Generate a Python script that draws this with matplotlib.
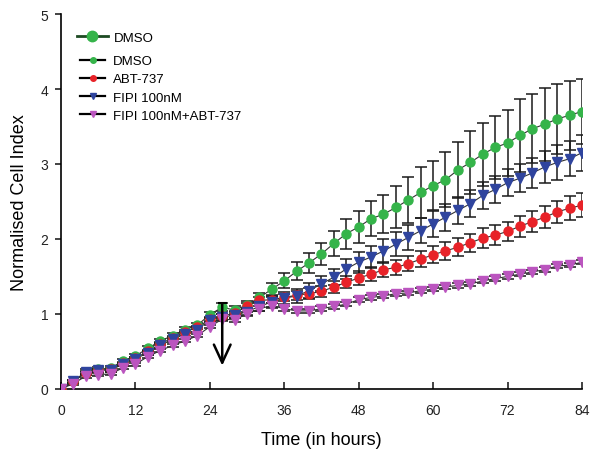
import matplotlib
matplotlib.use("Agg")
import matplotlib.pyplot as plt
from matplotlib.lines import Line2D

plt.rcParams['font.family'] = ['Liberation Sans', 'DejaVu Sans']

time = [0, 2, 4, 6, 8, 10, 12, 14, 16, 18, 20, 22, 24, 26, 28, 30, 32, 34, 36, 38,
        40, 42, 44, 46, 48, 50, 52, 54, 56, 58, 60, 62, 64, 66, 68, 70, 72, 74, 76, 78,
        80, 82, 84]

dmso = [0, 0.1, 0.23, 0.26, 0.28, 0.37, 0.44, 0.54, 0.64, 0.71,
        0.79, 0.85, 0.99, 1.09, 1.05, 1.12, 1.22, 1.33, 1.44, 1.57,
        1.68, 1.8, 1.94, 2.07, 2.16, 2.27, 2.33, 2.42, 2.52, 2.62,
        2.71, 2.79, 2.92, 3.02, 3.13, 3.22, 3.28, 3.38, 3.47, 3.53,
        3.6, 3.65, 3.7]
dmso_err = [0, 0.02, 0.03, 0.03, 0.03, 0.03, 0.03, 0.03, 0.03, 0.03,
            0.03, 0.03, 0.04, 0.05, 0.05, 0.05, 0.06, 0.08, 0.1, 0.12,
            0.13, 0.15, 0.17, 0.2, 0.21, 0.23, 0.25, 0.28, 0.31, 0.34,
            0.33, 0.37, 0.37, 0.42, 0.42, 0.42, 0.44, 0.49, 0.46, 0.49,
            0.47, 0.46, 0.43]

abt = [0, 0.1, 0.21, 0.25, 0.26, 0.34, 0.41, 0.5, 0.6, 0.68,
       0.76, 0.82, 0.93, 0.97, 1.01, 1.11, 1.18, 1.19, 1.22, 1.25,
       1.27, 1.3, 1.36, 1.42, 1.48, 1.53, 1.59, 1.62, 1.67, 1.73,
       1.79, 1.84, 1.89, 1.95, 2.01, 2.05, 2.1, 2.17, 2.23, 2.29,
       2.36, 2.41, 2.45]
abt_err = [0, 0.02, 0.02, 0.02, 0.02, 0.02, 0.02, 0.02, 0.02, 0.02,
           0.02, 0.02, 0.03, 0.03, 0.03, 0.04, 0.04, 0.05, 0.05, 0.06,
           0.07, 0.07, 0.08, 0.08, 0.09, 0.09, 0.1, 0.1, 0.1, 0.11,
           0.11, 0.12, 0.12, 0.12, 0.13, 0.13, 0.13, 0.14, 0.14, 0.15,
           0.15, 0.16, 0.16]

fipi = [0, 0.1, 0.22, 0.25, 0.25, 0.33, 0.4, 0.48, 0.58, 0.66,
        0.73, 0.79, 0.92, 0.96, 0.98, 1.03, 1.1, 1.16, 1.21, 1.24,
        1.31, 1.4, 1.49, 1.6, 1.69, 1.76, 1.84, 1.93, 2.02, 2.11,
        2.2, 2.29, 2.38, 2.47, 2.58, 2.66, 2.75, 2.81, 2.88, 2.96,
        3.02, 3.07, 3.15]
fipi_err = [0, 0.02, 0.02, 0.02, 0.02, 0.02, 0.03, 0.03, 0.03, 0.03,
            0.03, 0.03, 0.03, 0.04, 0.04, 0.05, 0.06, 0.07, 0.08, 0.09,
            0.1, 0.1, 0.11, 0.13, 0.14, 0.15, 0.16, 0.16, 0.17, 0.17,
            0.17, 0.18, 0.18, 0.18, 0.18, 0.18, 0.18, 0.19, 0.2, 0.21,
            0.23, 0.23, 0.24]

fipi_abt = [0, 0.07, 0.17, 0.19, 0.2, 0.28, 0.33, 0.43, 0.51, 0.58,
            0.64, 0.71, 0.83, 0.93, 0.92, 1.0, 1.07, 1.11, 1.07, 1.04,
            1.04, 1.07, 1.1, 1.13, 1.19, 1.22, 1.24, 1.27, 1.28, 1.31,
            1.33, 1.36, 1.38, 1.4, 1.44, 1.47, 1.5, 1.53, 1.56, 1.59,
            1.64, 1.65, 1.69]
fipi_abt_err = [0, 0.02, 0.02, 0.02, 0.02, 0.02, 0.02, 0.02, 0.02, 0.02,
                0.02, 0.02, 0.02, 0.03, 0.03, 0.03, 0.03, 0.03, 0.03, 0.03,
                0.03, 0.03, 0.03, 0.03, 0.03, 0.03, 0.03, 0.03, 0.03, 0.03,
                0.03, 0.03, 0.03, 0.03, 0.03, 0.03, 0.03, 0.03, 0.03, 0.03,
                0.03, 0.03, 0.03]

labels = ["DMSO", "ABT-737", "FIPI 100nM", "FIPI 100nM+ABT-737"]
colors = ["#35b44a", "#e82228", "#2f449e", "#bb55bf"]
markers = ["o", "o", "v", "v"]
xticks = [0, 12, 24, 36, 48, 60, 72, 84]
yticks = [0, 1, 2, 3, 4, 5]
arrow_time = 26
arrow_top, arrow_bottom = 1.14, 0.31

fig = plt.figure(figsize=(5.92, 4.56), dpi=100)
ax = fig.add_axes([0.103, 0.145, 0.880, 0.822])

series = [(dmso, dmso_err), (abt, abt_err), (fipi, fipi_err), (fipi_abt, fipi_abt_err)]
for i, ((vals, errs), c, m) in enumerate(zip(series, colors, markers)):
    ax.errorbar(time, vals, yerr=errs, fmt='none', ecolor='#1a1a1a', elinewidth=1.1,
                capsize=4, capthick=1.1, zorder=2 + i * 0.1)
    ax.plot(time, vals, color='#333333', lw=0.8, zorder=3 + i * 0.1)
    ax.plot(time, vals, linestyle='none', marker=m, markersize=6.5 if m == 'o' else 7,
            markerfacecolor=c, markeredgecolor=c, zorder=4 + i * 0.1)

ax.annotate("", xy=(arrow_time, arrow_bottom), xytext=(arrow_time, arrow_top),
            arrowprops=dict(arrowstyle="->,head_length=1.3,head_width=0.6", color='black', lw=1.8,
                            shrinkA=0, shrinkB=0), zorder=6)
ax.plot([arrow_time - 0.6, arrow_time + 0.6], [arrow_top, arrow_top], color='black', lw=1.5, zorder=6)

ax.set_xlim(0, 84)
ax.set_ylim(0, 5)
ax.set_xticks(xticks)
ax.set_yticks(yticks)
ax.spines['top'].set_visible(False)
ax.spines['right'].set_visible(False)
for s in ['left', 'bottom']:
    ax.spines[s].set_linewidth(1.2)
ax.tick_params(axis='x', direction='in', length=5, width=1.2, pad=10, labelsize=10, colors='#222222')
ax.tick_params(axis='y', direction='out', length=4, width=1.2, pad=5, labelsize=10, colors='#222222')
ax.set_xlabel("Time (in hours)", fontsize=13, labelpad=10)
ax.set_ylabel("Normalised Cell Index", fontsize=13, labelpad=9)

h1 = [Line2D([0], [0], color='#1d4a22', lw=2, marker='o', markersize=7.5,
             markerfacecolor=colors[0], markeredgecolor=colors[0])]
leg1 = ax.legend(h1, ["DMSO"], loc='upper left', bbox_to_anchor=(0.021, 0.968), frameon=False,
                 fontsize=9.5, handlelength=2.3, handletextpad=0.5, borderaxespad=0)
ax.add_artist(leg1)
h2 = [Line2D([0], [0], color='black', lw=1.6, marker=m, markersize=4,
             markerfacecolor=c, markeredgecolor=c) for c, m in zip(colors, markers)]
ax.legend(h2, labels, loc='upper left', bbox_to_anchor=(0.027, 0.905), frameon=False,
          fontsize=9.5, handlelength=1.9, handletextpad=0.6, labelspacing=0.45, borderaxespad=0)

fig.savefig("out.png", dpi=100)
